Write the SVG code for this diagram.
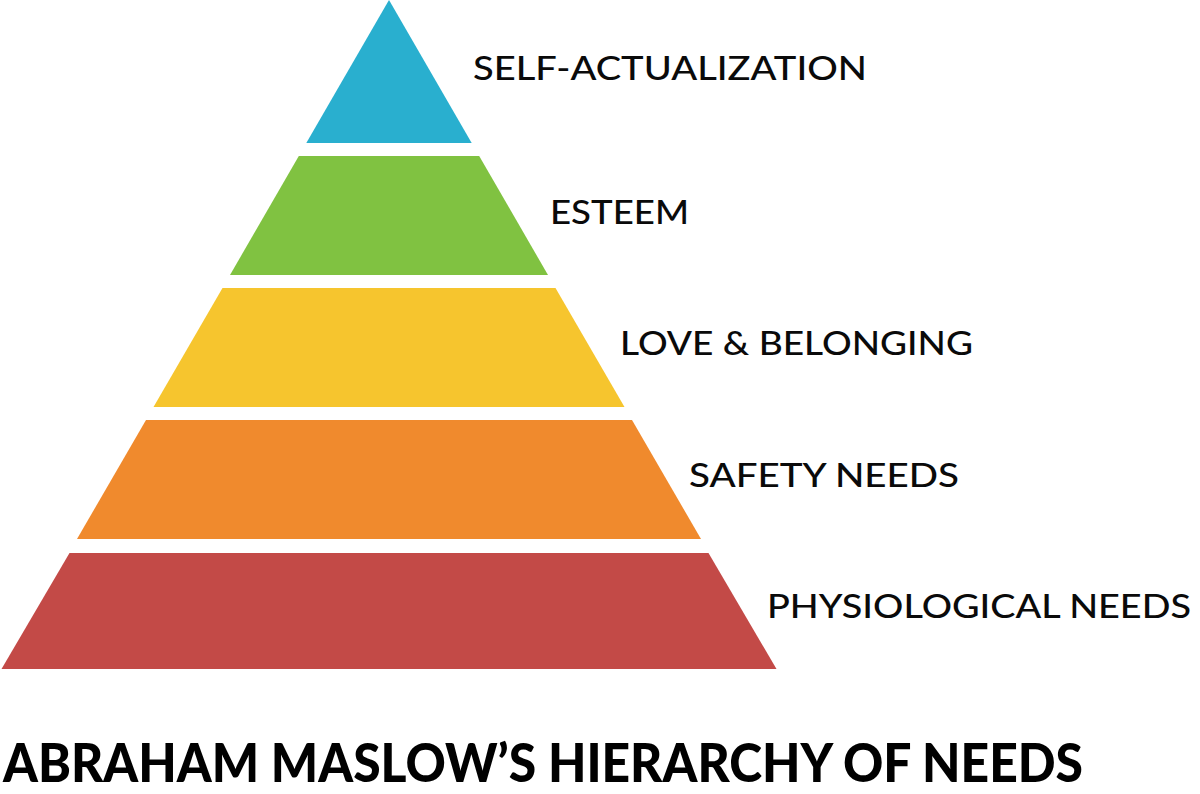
<svg xmlns="http://www.w3.org/2000/svg" width="1200" height="794" viewBox="0 0 1200 794">
<style>
.lbl{font-family:"Lato","Liberation Sans",sans-serif;font-size:32px;fill:#0a0a0a;font-weight:500}
.title{font-family:"Lato","Liberation Sans",sans-serif;font-size:53px;font-weight:900;fill:#000}
</style>
<rect width="1200" height="794" fill="#fff"/>
<g id="self-actualization">
<polygon points="389,0 471.7,143 306.3,143" fill="#29AFCF"/>
<text class="lbl" x="473" y="79.5" textLength="394" lengthAdjust="spacingAndGlyphs">SELF-ACTUALIZATION</text>
</g>
<g id="esteem">
<polygon points="298.8,156 479.2,156 548,275 230,275" fill="#80C241"/>
<text class="lbl" x="550" y="223.5" textLength="139" lengthAdjust="spacingAndGlyphs">ESTEEM</text>
</g>
<g id="love-belonging">
<polygon points="222.5,288 555.5,288 624.5,407 153.5,407" fill="#F6C52E"/>
<text class="lbl" x="620" y="355" textLength="353" lengthAdjust="spacingAndGlyphs">LOVE &amp; BELONGING</text>
</g>
<g id="safety">
<polygon points="146,420 632,420 701,539 77,539" fill="#F08A2D"/>
<text class="lbl" x="689" y="487" textLength="270" lengthAdjust="spacingAndGlyphs">SAFETY NEEDS</text>
</g>
<g id="physiological">
<polygon points="69.5,553 708.5,553 776.5,669 1.5,669" fill="#C34A47"/>
<text class="lbl" x="767" y="618" textLength="424" lengthAdjust="spacingAndGlyphs">PHYSIOLOGICAL NEEDS</text>
</g>
<g id="connectors"></g>
<text class="title" x="3" y="782" textLength="1080" lengthAdjust="spacingAndGlyphs">ABRAHAM MASLOW’S HIERARCHY OF NEEDS</text>
</svg>
